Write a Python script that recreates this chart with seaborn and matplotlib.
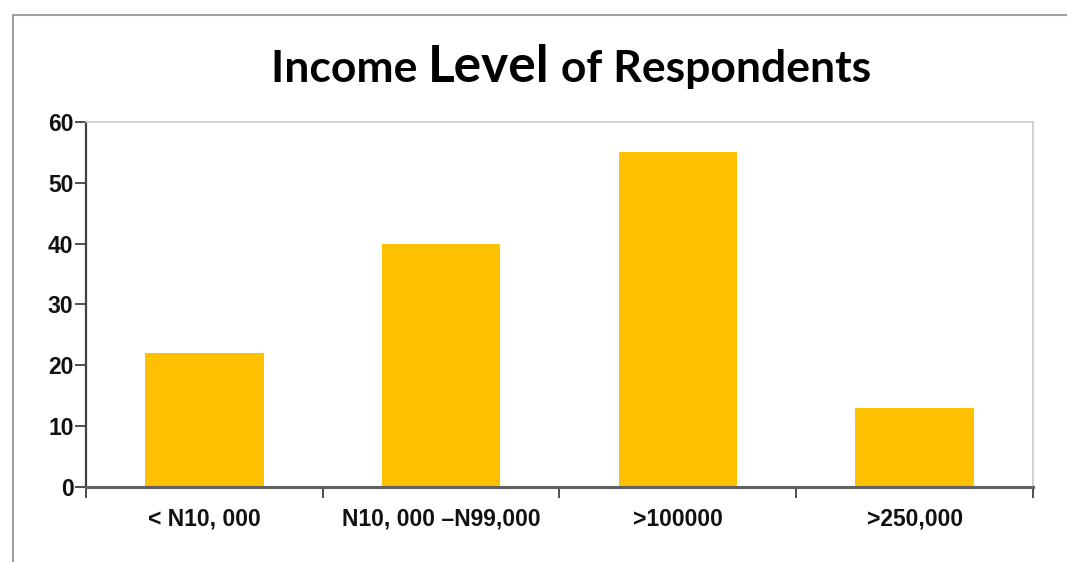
import matplotlib
matplotlib.use("Agg")
import matplotlib.pyplot as plt
from matplotlib.lines import Line2D
import seaborn as sns
import pandas as pd

categories = ["< N10, 000", "N10, 000 \u2013N99,000", ">100000", ">250,000"]
respondents = [22, 40, 55, 13]
yticks = [0, 10, 20, 30, 40, 50, 60]

sns.set_theme(style="white")
plt.rcParams["font.family"] = ["Liberation Sans", "DejaVu Sans"]

df = pd.DataFrame({"income": categories, "count": respondents})

fig = plt.figure(figsize=(10.67, 5.62), dpi=100)
ax = fig.add_axes([0.0806, 0.1335, 0.8875, 0.6495])

sns.barplot(data=df, x="income", y="count", color="#FFC000", width=0.5,
            saturation=1, ax=ax, edgecolor="none")

ax.set_xlim(-0.5, len(categories) - 0.5)
ax.set_ylim(0, 60)
ax.set_yticks(yticks)
ax.set_xlabel("")
ax.set_ylabel("")

# category boundary ticks below the axis
ax.set_xticks([i - 0.5 for i in range(len(categories) + 1)], minor=True)
ax.tick_params(axis="x", which="major", length=0, pad=15)
ax.tick_params(axis="x", which="minor", bottom=True, length=8, width=1.3,
               color="#404040", direction="out")
ax.tick_params(axis="y", left=True, length=8, width=1.3, color="#404040",
               direction="out", pad=1)
for lab in ax.get_xticklabels() + ax.get_yticklabels():
    lab.set_fontweight("bold")
    lab.set_fontsize(16.5)
    lab.set_color("#111111")

for side in ("top", "right"):
    ax.spines[side].set_color("#c8c8c8")
    ax.spines[side].set_linewidth(1.2)
ax.spines["left"].set_color("#404040")
ax.spines["left"].set_linewidth(1.6)
ax.spines["bottom"].set_color("#606060")
ax.spines["bottom"].set_linewidth(2.2)

# outer chart frame
fig.add_artist(Line2D([13 / 1067, 1.0], [1 - 15 / 562, 1 - 15 / 562],
                      transform=fig.transFigure, color="#a0a0a0", lw=1.5))
fig.add_artist(Line2D([13 / 1067, 13 / 1067], [0, 1 - 15 / 562],
                      transform=fig.transFigure, color="#a0a0a0", lw=1.5))

# title with an enlarged middle word
parts = [("Income ", 32), ("Level", 37), (" of Respondents", 32)]
fig.canvas.draw()
renderer = fig.canvas.get_renderer()
texts = []
for s, size in parts:
    t = fig.text(0, 1 - 82 / 562, s, fontsize=size, fontweight="bold",
                 family=["Lato", "DejaVu Sans"], color="black",
                 va="baseline", ha="left")
    texts.append(t)
widths = [t.get_window_extent(renderer).width for t in texts]
total = sum(widths)
x = 571 - total / 2
for t, w in zip(texts, widths):
    t.set_x(x / 1067)
    x += w

fig.savefig("out.png", dpi=100, facecolor="white")
